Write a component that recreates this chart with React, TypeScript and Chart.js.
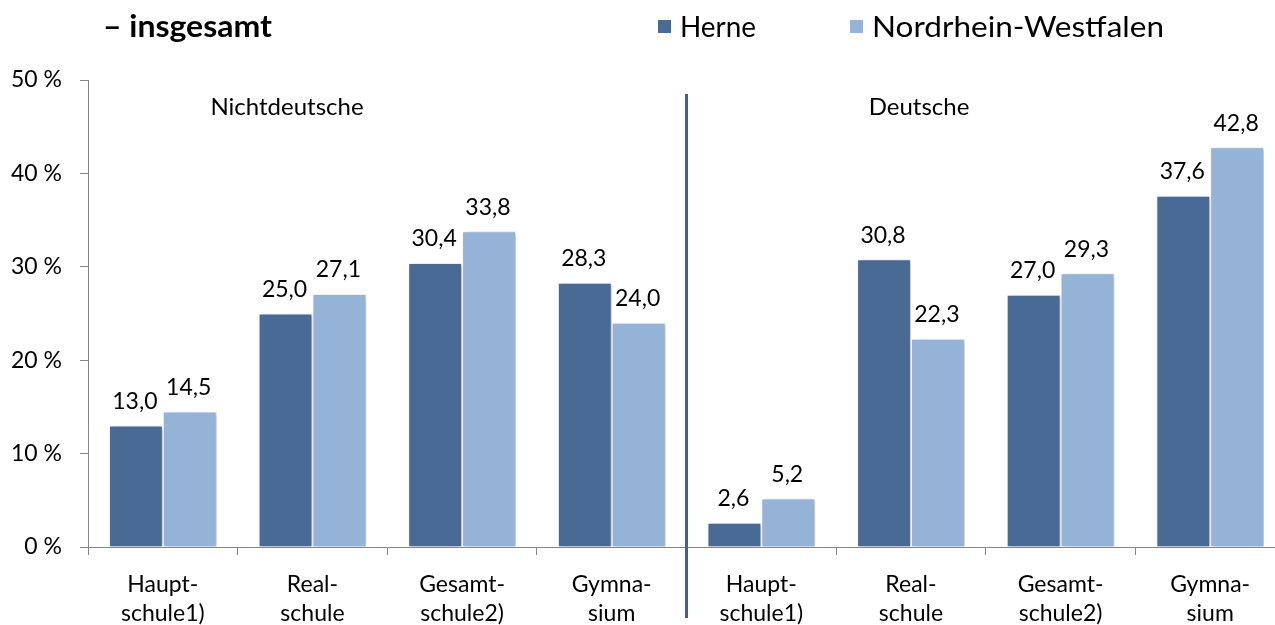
import React, { useEffect, useRef } from "react";
import { Chart, registerables } from "chart.js";

Chart.register(...registerables);

const categories: string[][] = [
  ["Haupt-", "schule1)"],
  ["Real-", "schule"],
  ["Gesamt-", "schule2)"],
  ["Gymna-", "sium"],
  ["Haupt-", "schule1)"],
  ["Real-", "schule"],
  ["Gesamt-", "schule2)"],
  ["Gymna-", "sium"],
];
const herne: number[] = [13.0, 25.0, 30.4, 28.3, 2.6, 30.8, 27.0, 37.6];
const nrw: number[] = [14.5, 27.1, 33.8, 24.0, 5.2, 22.3, 29.3, 42.8];
const seriesNames: string[] = ["Herne", "Nordrhein-Westfalen"];
const groupLabels: string[] = ["Nichtdeutsche", "Deutsche"];
const titleText = "– insgesamt";
const yTicks: number[] = [0, 10, 20, 30, 40, 50];

const COLORS = ["#4a6a96", "#95b3d7"];
const FONT = "Lato, 'Open Sans', sans-serif";

function drawFitted(ctx: CanvasRenderingContext2D, text: string, x: number, y: number, width: number) {
  const w = ctx.measureText(text).width;
  const s = width / w;
  ctx.save();
  ctx.translate(x, y);
  ctx.scale(s, 1);
  ctx.fillText(text, 0, 0);
  ctx.restore();
}

export default function App() {
  const ref = useRef<HTMLCanvasElement | null>(null);

  useEffect(() => {
    const canvas = ref.current;
    if (!canvas) return;

    const shadowPlugin = {
      id: "shadow",
      beforeDatasetsDraw(chart: any) {
        const ctx = chart.ctx;
        ctx.save();
        ctx.shadowColor = "rgba(0,0,0,0.28)";
        ctx.shadowBlur = 4;
        ctx.shadowOffsetX = 2;
        ctx.shadowOffsetY = 1;
      },
      afterDatasetsDraw(chart: any) {
        chart.ctx.restore();
      },
    };

    const overlayPlugin = {
      id: "overlay",
      afterDatasetsDraw(chart: any) {
        const ctx = chart.ctx;
        ctx.save();
        // data labels
        ctx.fillStyle = "#000";
        ctx.font = `23px ${FONT}`;
        ctx.textAlign = "center";
        ctx.textBaseline = "middle";
        chart.data.datasets.forEach((ds: any, i: number) => {
          const meta = chart.getDatasetMeta(i);
          meta.data.forEach((el: any, j: number) => {
            const v = ds.data[j] as number;
            ctx.fillText(v.toFixed(1).replace(".", ","), el.x - 1, el.y - 24);
          });
        });
        // separator line
        const xs = chart.scales.x;
        const sx = (xs.getPixelForValue(3) + xs.getPixelForValue(4)) / 2;
        ctx.strokeStyle = "#3f6294";
        ctx.lineWidth = 3;
        ctx.beginPath();
        ctx.moveTo(sx, 94);
        ctx.lineTo(sx, 618);
        ctx.stroke();
        // group labels
        ctx.font = `24px ${FONT}`;
        ctx.fillText(groupLabels[0], 287, 107);
        ctx.fillText(groupLabels[1], 919, 107);
        // title
        ctx.textAlign = "left";
        ctx.font = `bold 31px ${FONT}`;
        drawFitted(ctx, titleText, 103, 27, 169);
        // legend
        ctx.font = `28px ${FONT}`;
        const legendX = [658, 850];
        const legendW = [76, 292];
        seriesNames.forEach((n, i) => {
          ctx.fillStyle = COLORS[i];
          ctx.fillRect(legendX[i], 20, 13, 13);
          ctx.fillStyle = "#000";
          drawFitted(ctx, n, legendX[i] + 22, 28, legendW[i]);
        });
        ctx.restore();
      },
    };

    const chart = new Chart(canvas, {
      type: "bar",
      data: {
        labels: categories,
        datasets: [
          {
            label: seriesNames[0],
            data: herne,
            backgroundColor: COLORS[0],
            borderColor: "#ffffff",
            borderWidth: 1,
            categoryPercentage: 0.72,
            barPercentage: 1.0,
          },
          {
            label: seriesNames[1],
            data: nrw,
            backgroundColor: COLORS[1],
            borderColor: "#ffffff",
            borderWidth: 1,
            categoryPercentage: 0.72,
            barPercentage: 1.0,
          },
        ],
      },
      options: {
        responsive: false,
        animation: false,
        devicePixelRatio: 1,
        layout: { padding: { top: 80, right: 15, bottom: 0, left: 0 } },
        plugins: {
          legend: { display: false },
          title: { display: false },
          tooltip: { enabled: false },
        },
        scales: {
          x: {
            offset: true,
            grid: {
              display: true,
              offset: true,
              drawOnChartArea: false,
              drawTicks: true,
              tickLength: 8,
              color: "#868686",
            },
            border: { display: true, color: "#868686", width: 1 },
            ticks: {
              color: "#000",
              font: { family: FONT, size: 23, lineHeight: 1.27 },
              padding: 15,
              maxRotation: 0,
              autoSkip: false,
            },
            afterFit(scale: any) {
              scale.height = 78;
            },
          },
          y: {
            min: 0,
            max: 50,
            afterBuildTicks(scale: any) {
              scale.ticks = yTicks.map((v) => ({ value: v }));
            },
            grid: {
              display: true,
              drawOnChartArea: false,
              drawTicks: true,
              tickLength: 8,
              color: "#868686",
            },
            border: { display: true, color: "#868686", width: 1 },
            ticks: {
              color: "#000",
              font: { family: FONT, size: 23 },
              padding: 18,
              callback: (v: any) => `${v} %`,
            },
            afterFit(scale: any) {
              scale.width = 88;
            },
          },
        },
      },
      plugins: [shadowPlugin, overlayPlugin],
    });

    return () => chart.destroy();
  }, []);

  return (
    <div
      style={{
        position: "fixed",
        left: 0,
        top: 0,
        width: 1275,
        height: 625,
        overflow: "hidden",
        background: "#fff",
      }}
    >
      <canvas ref={ref} width={1300} height={625} style={{ width: 1300, height: 625, display: "block" }} />
    </div>
  );
}
